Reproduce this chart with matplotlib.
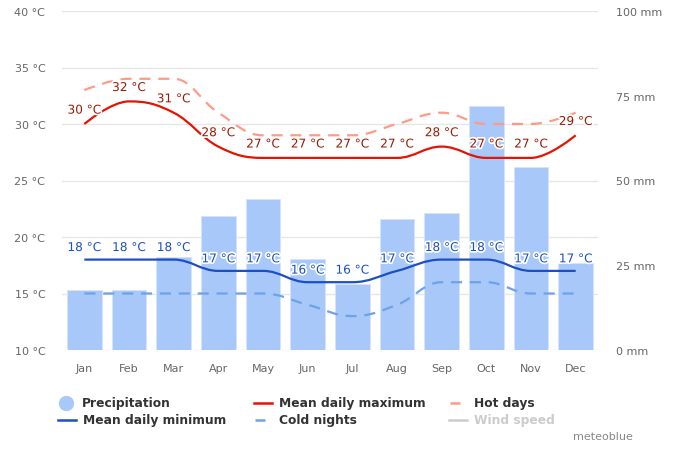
import matplotlib
matplotlib.use("Agg")
import matplotlib.pyplot as plt
import matplotlib.patheffects as pe
from matplotlib.path import Path
from matplotlib.patches import PathPatch
from matplotlib.lines import Line2D

# data
months = ["Jan", "Feb", "Mar", "Apr", "May", "Jun", "Jul", "Aug", "Sep", "Oct", "Nov", "Dec"]
precip_mm = [17.7, 17.7, 27.5, 39.5, 44.5, 26.7, 19.5, 38.6, 40.4, 72, 54, 25.7]
mean_max = [30, 32, 31, 28, 27, 27, 27, 27, 28, 27, 27, 29]
hot_days = [33, 34, 34, 31, 29, 29, 29, 30, 31, 30, 30, 31]
mean_min = [18, 18, 18, 17, 17, 16, 16, 17, 18, 18, 17, 17]
cold_nights = [15, 15, 15, 15, 15, 14, 13, 14, 16, 16, 15, 15]

temp_ticks = [10, 15, 20, 25, 30, 35, 40]
precip_ticks = [0, 25, 50, 75, 100]

W, H = 678, 452


def spline_path(xs, ys, smoothing=1.5):
    # highcharts-style spline through the points, as bezier segments
    n = len(xs)
    denom = smoothing + 1
    left = [(xs[i], ys[i]) for i in range(n)]
    right = [(xs[i], ys[i]) for i in range(n)]
    for i in range(1, n - 1):
        lx, ly = xs[i - 1], ys[i - 1]
        px, py = xs[i], ys[i]
        nx, ny = xs[i + 1], ys[i + 1]
        lcx = (smoothing * px + lx) / denom
        lcy = (smoothing * py + ly) / denom
        rcx = (smoothing * px + nx) / denom
        rcy = (smoothing * py + ny) / denom
        if rcx != lcx:
            corr = (rcy - lcy) * (rcx - px) / (rcx - lcx) + py - rcy
            lcy += corr
            rcy += corr
        if lcy > ly and lcy > py:
            lcy = max(ly, py)
            rcy = 2 * py - lcy
        elif lcy < ly and lcy < py:
            lcy = min(ly, py)
            rcy = 2 * py - lcy
        if rcy > ny and rcy > py:
            rcy = max(ny, py)
            lcy = 2 * py - rcy
        elif rcy < ny and rcy < py:
            rcy = min(ny, py)
            lcy = 2 * py - rcy
        left[i] = (lcx, lcy)
        right[i] = (rcx, rcy)
    verts = [(xs[0], ys[0])]
    codes = [Path.MOVETO]
    for i in range(1, n):
        verts += [right[i - 1], left[i], (xs[i], ys[i])]
        codes += [Path.CURVE4] * 3
    return Path(verts, codes)


fig = plt.figure(figsize=(W / 100, H / 100), dpi=100)
rect = [62 / W, 1 - 351 / H, (598 - 62) / W, (351 - 12) / H]

# base axis: temperature scale + grid
ax = fig.add_axes(rect)
x = list(range(len(months)))
ax.set_xlim(-0.5, 11.5)
ax.set_ylim(10, 40)
ax.set_yticks(temp_ticks)
ax.set_yticklabels([f"{t} °C" for t in temp_ticks])
ax.set_xticks(x)
ax.set_xticklabels(months)
ax.grid(axis="y", color="#e6e6e6", lw=1)
ax.tick_params(axis="both", length=0, labelsize=8, labelcolor="#666666")
ax.tick_params(axis="y", pad=12)
ax.tick_params(axis="x", pad=9)
for s in ax.spines.values():
    s.set_visible(False)

# precipitation bars
ax2 = ax.twinx()
ax2.bar(x, precip_mm, width=0.78, color="#a8c8fa", edgecolor="#d6e4fc",
        linewidth=0.7, zorder=2)
ax2.set_ylim(0, 100)
ax2.set_yticks(precip_ticks)
ax2.set_yticklabels([f"{p} mm" for p in precip_ticks])
ax2.tick_params(axis="y", length=0, labelsize=8, labelcolor="#666666", pad=13)
for s in ax2.spines.values():
    s.set_visible(False)

# temperature lines
ax3 = ax.twinx()
ax3.set_ylim(10, 40)
ax3.set_xlim(-0.5, 11.5)
ax3.axis("off")

series = [
    (hot_days, "#ff9a86", (0, (5, 3.5))),
    (mean_max, "#e51300", "solid"),
    (cold_nights, "#6ea2e8", (0, (5, 3.5))),
    (mean_min, "#1c4fc4", "solid"),
]
for vals, col, ls in series:
    ax3.add_patch(PathPatch(spline_path(x, vals), fill=False, edgecolor=col,
                            lw=1.6, linestyle=ls, capstyle="butt"))

outline = [pe.withStroke(linewidth=2.5, foreground="white")]
for xi, v in zip(x, mean_max):
    ax3.annotate(f"{v} °C", (xi, v), xytext=(0, 10), textcoords="offset points",
                 ha="center", va="center", fontsize=8.7, color="#9a1a05",
                 path_effects=outline)
for xi, v in zip(x, mean_min):
    ax3.annotate(f"{v} °C", (xi, v), xytext=(0, 8.7), textcoords="offset points",
                 ha="center", va="center", fontsize=8.7, color="#1c4fc4",
                 path_effects=outline)

# legend drawn by hand to match the layout
def fx(px):
    return px / W


def fy(py):
    return 1 - py / H


legend_items = [
    ("Precipitation", "marker", "#a8c8fa", 66, 404, "#333333"),
    ("Mean daily maximum", "solid", "#e51300", 263, 404, "#333333"),
    ("Hot days", "dash", "#ff9a86", 458, 404, "#333333"),
    ("Mean daily minimum", "solid", "#1c4fc4", 67, 421, "#333333"),
    ("Cold nights", "dash", "#6ea2e8", 263, 421, "#333333"),
    ("Wind speed", "solid", "#cccccc", 458, 421, "#cccccc"),
]
for label, kind, col, cx, cy, tcol in legend_items:
    if kind == "marker":
        fig.add_artist(Line2D([fx(cx)], [fy(cy)], marker="o", ms=10, color=col,
                              transform=fig.transFigure))
    elif kind == "dash":
        fig.add_artist(Line2D([fx(cx - 8), fx(cx + 9)], [fy(cy), fy(cy)], color=col,
                              lw=1.8, ls=(0, (4, 3)), transform=fig.transFigure))
    else:
        fig.add_artist(Line2D([fx(cx - 9), fx(cx + 9)], [fy(cy), fy(cy)], color=col,
                              lw=1.8, transform=fig.transFigure))
    fig.text(fx(cx + 16), fy(cy), label, ha="left", va="center", fontsize=8.8,
             fontweight="bold", color=tcol)

fig.text(fx(633), fy(437), "meteoblue", ha="right", va="center", fontsize=8,
         color="#888888")

fig.savefig("out.png", dpi=100)
